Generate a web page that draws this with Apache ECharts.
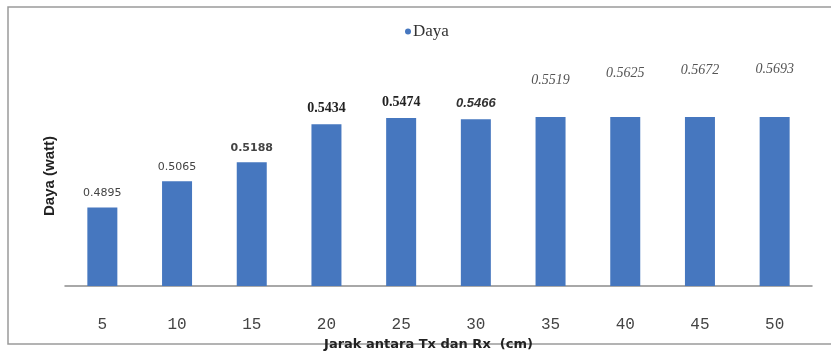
<!DOCTYPE html>
<html>
<head>
<meta charset="utf-8">
<script src="https://cdn.jsdelivr.net/npm/echarts@6/dist/echarts.min.js"></script>
<style>
  html, body { margin: 0; padding: 0; background: #ffffff; }
  #chart { width: 831px; height: 353px; }
</style>
</head>
<body>
<div id="chart"></div>
<script>
// Jarak antara Tx dan Rx (cm)
const categories = ['5', '10', '15', '20', '25', '30', '35', '40', '45', '50'];
// Daya (watt)
const dayaValues = [0.4895, 0.5065, 0.5188, 0.5434, 0.5474, 0.5466, 0.5519, 0.5625, 0.5672, 0.5693];
const seriesName = 'Daya';
const xTitle = 'Jarak antara Tx dan Rx  (cm)';
const yTitle = 'Daya (watt)';

// value axis window; taller bars are cut off at the top of the plot
const Y_MIN = 0.4389;
const Y_MAX = 0.548;

// per-label typography
function labelStyle(i) {
  if (i <= 2) return { fontFamily: 'DejaVu Sans', fontSize: 11, color: '#444', fontWeight: i === 2 ? 'bold' : 'normal' };
  if (i <= 4) return { fontFamily: 'Liberation Serif', fontSize: 14, color: '#222', fontWeight: 'bold' };
  if (i === 5) return { fontFamily: 'Liberation Sans', fontSize: 13, color: '#333', fontWeight: 'bold', fontStyle: 'italic' };
  return { fontFamily: 'Liberation Serif', fontSize: 14, color: '#555', fontStyle: 'italic' };
}

const seriesData = dayaValues.map((v, i) => {
  const st = labelStyle(i);
  // labels of cut-off bars rise with their value
  const lift = v > Y_MAX ? -(21 + (v - 0.5519) * 640) : 0;
  return {
    value: v,
    label: Object.assign({ offset: [0, lift] }, st)
  };
});

const chart = echarts.init(document.getElementById('chart'), null, { renderer: 'canvas' });
chart.setOption({
  backgroundColor: '#ffffff',
  animation: false,
  graphic: [
    {
      type: 'rect',
      shape: { x: 8, y: 7, width: 840, height: 337 },
      style: { fill: 'none', stroke: '#9a9a9a', lineWidth: 1.5 },
      silent: true
    },
    {
      type: 'text',
      x: 50, y: 176,
      rotation: Math.PI / 2,
      style: {
        text: yTitle,
        fontFamily: 'Liberation Sans',
        fontWeight: 'bold',
        fontSize: 15,
        fill: '#222',
        align: 'center',
        verticalAlign: 'middle'
      }
    }
  ],
  legend: {
    data: [seriesName],
    top: 18,
    left: 400,
    icon: 'circle',
    itemWidth: 6,
    itemHeight: 6,
    itemGap: 4,
    textStyle: { fontFamily: 'Liberation Serif', fontSize: 17, color: '#333', padding: [0, 0, 0, -3] }
  },
  grid: { left: 65, right: 19, top: 117, bottom: 67, containLabel: false },
  xAxis: {
    type: 'category',
    data: categories,
    axisLine: { lineStyle: { color: '#8c8c8c', width: 1.5 } },
    axisTick: { show: false },
    axisLabel: { margin: 31, fontFamily: 'Liberation Mono', fontSize: 16, color: '#444' },
    name: xTitle,
    nameLocation: 'middle',
    nameGap: 52,
    nameTextStyle: { fontFamily: 'DejaVu Sans', fontWeight: 'bold', fontSize: 13, color: '#222', padding: [0, 20, 0, 0] }
  },
  yAxis: {
    type: 'value',
    min: Y_MIN,
    max: Y_MAX,
    axisLine: { show: false },
    axisTick: { show: false },
    axisLabel: { show: false },
    splitLine: { show: false }
  },
  series: [{
    name: seriesName,
    type: 'bar',
    data: seriesData,
    barWidth: 30,
    clip: true,
    itemStyle: { color: '#4677bf' },
    label: {
      show: true,
      position: 'top',
      distance: 9,
      formatter: p => p.value.toFixed(4)
    }
  }]
});
</script>
</body>
</html>
